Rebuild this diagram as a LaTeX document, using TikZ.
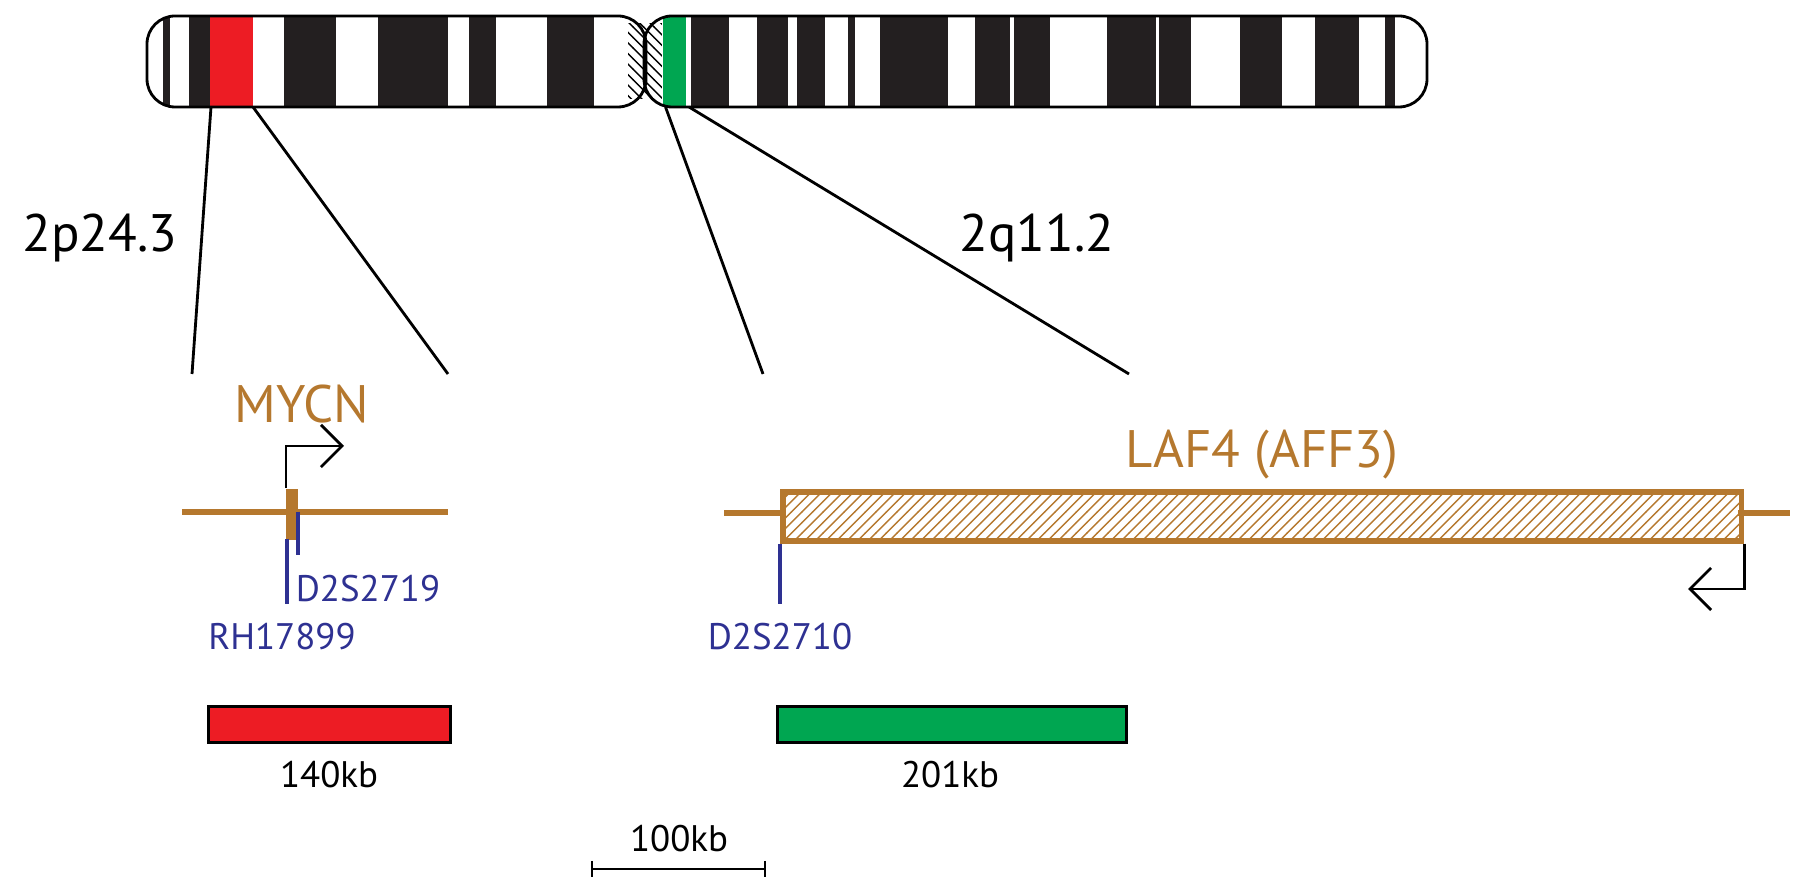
\documentclass[tikz,border=0pt]{standalone}
\usepackage{fontspec}
\setmainfont{PT Sans}
\usetikzlibrary{patterns,calc,arrows.meta}
\definecolor{geneorange}{HTML}{B5782E}
\definecolor{markblue}{HTML}{2E3192}
\definecolor{bandred}{HTML}{ED1C24}
\definecolor{bandgreen}{HTML}{00A651}
\definecolor{bandblack}{HTML}{231F20}
\tikzset{
  zoomline/.style={thick,black},
  gene/.style={geneorange,line width=1.6pt},
  marker/.style={markblue,line width=1.3pt},
  arm/.style={thick,rounded corners=0.28cm},
  biglabel/.style={font=\fontsize{15}{18}\selectfont},
  smalllabel/.style={font=\fontsize{10.5}{13}\selectfont},
  probe/.style={draw,thick,minimum height=0.36cm,inner sep=0,anchor=north west},
  tss/.style={thick,black,-{Straight Barb[length=6pt,width=12pt]}}
}
\begin{document}
\begin{tikzpicture}[x=0.01cm,y=-0.01cm]
\useasboundingbox (0,0) rectangle (1812,892);

% centromere
\fill[pattern=north west lines] (628,24) rectangle (662,99);
% chromosome 2, p arm
\begin{scope}
\clip[rounded corners=0.28cm] (147,16) rectangle (646,107);
\fill[white] (147,16) rectangle (628,107);
\foreach \a/\b in {162.5/170,189/209.6,283.8/335.9,378/447.6,468.7/495.5,547/593.8}
  \fill[bandblack] (\a,16) rectangle (\b,107);
\fill[bandred] (209.6,16) rectangle (252.5,107);
\end{scope}
% q arm
\begin{scope}
\clip[rounded corners=0.28cm] (644,16) rectangle (1427,107);
\fill[white] (662,16) rectangle (1427,107);
\foreach \a/\b in {690.7/729,757/788,797/825,848/855,880/948,975/1010,1014/1050,1107/1156,1159/1191,1240/1282,1315/1359,1385/1395}
  \fill[bandblack] (\a,16) rectangle (\b,107);
\fill[bandgreen] (662.7,16) rectangle (685.7,107);
\end{scope}
\draw[arm] (147,16) rectangle (646,107);
\draw[arm] (644,16) rectangle (1427,107);

% band anchors
\coordinate (p1) at (211,107);
\coordinate (p2) at (253,107);
\coordinate (q1) at (665.5,107);
\coordinate (q2) at (689,107);
\coordinate (p1e) at (192,374);
\coordinate (p2e) at (448,374);
\coordinate (q1e) at (763,374);
\coordinate (q2e) at (1129,374);
\draw[zoomline] (p1) -- (p1e);
\draw[zoomline] (p2) -- (p2e);
\draw[zoomline] (q1) -- (q1e);
\draw[zoomline] (q2) -- (q2e);
\node[biglabel] (lblp) at (100,238) {2p24.3};
\node[biglabel] (lblq) at (1037,238) {2q11.2};

% MYCN locus
\node[biglabel,text=geneorange] (mycn) at (302,404) {MYCN};
\coordinate (mycnL) at (182,512);
\coordinate (mycnR) at (448,512);
\draw[gene] (mycnL) -- (mycnR);
\node[fill=geneorange,minimum width=0.12cm,minimum height=0.51cm,inner sep=0,anchor=north west] (mycnbox) at (285,488) {};
\coordinate (mycntss) at (344,446);
\draw[tss] ($(mycnbox.north west)+(1,0)$) |- (mycntss);
\coordinate (rhtop) at (287,539);
\coordinate (rhbot) at (287,604);
\draw[marker] (rhtop) -- (rhbot);
\coordinate (dtop) at (298,512);
\coordinate (dbot) at (298,555);
\draw[marker] (dtop) -- (dbot);
\node[smalllabel,text=markblue] (rh) at (282,637) {RH17899};
\node[smalllabel,text=markblue] (d19) at (368,589) {D2S2719};

% LAF4 locus
\node[biglabel,text=geneorange] (laf) at (1262,455) {LAF4 (AFF3)};
\coordinate (lafL) at (724,513);
\coordinate (lafR) at (1790,513);
\draw[gene] (lafL) -- (780,513);
\draw[gene] (1738,513) -- (lafR);
\node[draw=geneorange,line width=1.6pt,pattern=north east lines,pattern color=geneorange,
  minimum width=9.58cm,minimum height=0.49cm,inner sep=0,anchor=north west] (lafbox) at (780,489) {};
\coordinate (laftss) at (1688,589);
\draw[tss] (lafbox.south east) |- (laftss);
\coordinate (d10bot) at (780,604);
\draw[marker] (lafbox.south west) -- (d10bot);
\node[smalllabel,text=markblue] (d10) at (780,637) {D2S2710};

% probes
\node[probe,fill=bandred,minimum width=2.42cm] (probered) at (207,705) {};
\node[smalllabel] (kb140) at (329,775) {140kb};
\node[probe,fill=bandgreen,minimum width=3.49cm] (probegreen) at (776,705) {};
\node[smalllabel] (kb201) at (950,775) {201kb};

% scale bar
\coordinate (sbL) at (592,869);
\coordinate (sbR) at (765,869);
\draw[thick] (sbL) -- (sbR);
\draw[thick] (592,861) -- (592,877);
\draw[thick] (765,861) -- (765,877);
\node[smalllabel] (kb100) at (679,839) {100kb};
\end{tikzpicture}
\end{document}
